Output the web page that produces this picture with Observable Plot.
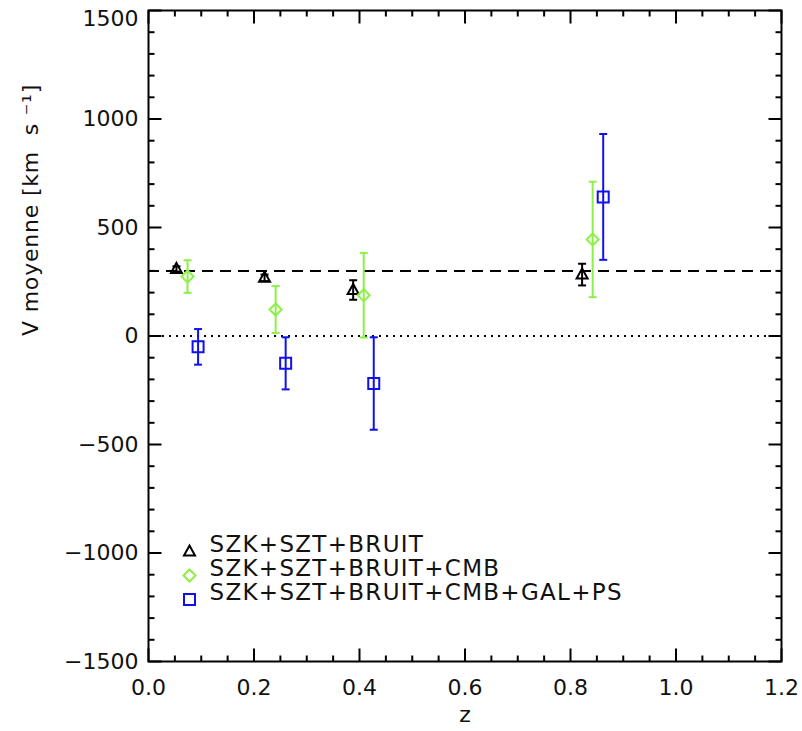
<!DOCTYPE html>
<html>
<head>
<meta charset="utf-8">
<script src="https://cdn.jsdelivr.net/npm/d3@7"></script>
<script src="https://cdn.jsdelivr.net/npm/@observablehq/plot@0.6"></script>
<style>
  html, body { margin: 0; padding: 0; background: #fff; }
  #chart svg { display: block; }
</style>
</head>
<body>
<div id="chart"></div>
<script>
// Mean velocity of clusters per redshift bin, for three simulated map combinations
const zSzk = [0.053, 0.220, 0.388, 0.822];
const vSzk = [309, 268, 212, 283];
const eSzk = [12, 15, 45, 50];

const zCmb = [0.074, 0.241, 0.408, 0.842];
const vCmb = [274, 122, 188, 445];
const eCmb = [75, 108, 195, 266];

const zGal = [0.094, 0.260, 0.427, 0.862];
const vGal = [-50, -126, -219, 641];
const eGal = [82, 120, 213, 290];

const seriesNames = ["SZK+SZT+BRUIT", "SZK+SZT+BRUIT+CMB", "SZK+SZT+BRUIT+CMB+GAL+PS"];
const seriesColors = ["#000000", "#8cf046", "#1010ee"];

const xMajor = [0, 0.2, 0.4, 0.6, 0.8, 1.0, 1.2];
const xMinor = d3.range(0, 25).map(i => i * 0.05).filter(v => Math.abs(v / 0.2 - Math.round(v / 0.2)) > 1e-6);
const yMajor = [-1500, -1000, -500, 0, 500, 1000, 1500];
const yMinor = d3.range(-1500, 1501, 100).filter(v => v % 500 !== 0);

const refVelocity = 300;
const yLabel = "V moyenne [km  s \u207B\u00B9]";

const series = [
  {name: seriesNames[0], color: seriesColors[0], z: zSzk, v: vSzk, e: eSzk},
  {name: seriesNames[1], color: seriesColors[1], z: zCmb, v: vCmb, e: eCmb},
  {name: seriesNames[2], color: seriesColors[2], z: zGal, v: vGal, e: eGal}
];
const rows = series.flatMap((s, k) => s.z.map((z, i) => ({k, name: s.name, z, v: s.v[i], e: s.e[i]})));

// Open markers and short line glyphs drawn in pixel units
const triangle = {draw(c) { c.moveTo(0, -6); c.lineTo(5.5, 4); c.lineTo(-5.5, 4); c.closePath(); }};
const diamond = {draw(c) { c.moveTo(0, -6); c.lineTo(6, 0); c.lineTo(0, 6); c.lineTo(-6, 0); c.closePath(); }};
const square = {draw(c) { c.rect(-5.5, -5.5, 11, 11); }};
const markers = [triangle, diamond, square];
const cap = {draw(c) { c.moveTo(-4, 0); c.lineTo(4, 0); }};
const tick = (dx, dy) => ({draw(c) { c.moveTo(0, 0); c.lineTo(dx, dy); }});

const axisTicks = (values, len) => [
  Plot.dot(values, {x: d => d, y: () => -1500, symbol: tick(0, -len), stroke: "black", strokeWidth: 2}),
  Plot.dot(values, {x: d => d, y: () => 1500, symbol: tick(0, len), stroke: "black", strokeWidth: 2})
];
const axisTicksY = (values, len) => [
  Plot.dot(values, {y: d => d, x: () => 0, symbol: tick(len, 0), stroke: "black", strokeWidth: 2}),
  Plot.dot(values, {y: d => d, x: () => 1.2, symbol: tick(-len, 0), stroke: "black", strokeWidth: 2})
];

const legendRowsDy = [-110, -86, -62];
const legendMarks = series.flatMap((s, k) => [
  Plot.dot([s.name], {frameAnchor: "bottom-left", dx: 41, dy: legendRowsDy[k], symbol: markers[k], stroke: s.color, strokeWidth: 2, fill: "none"}),
  Plot.text([s.name], {frameAnchor: "bottom-left", dx: 61, dy: legendRowsDy[k], text: d => d, textAnchor: "start", fontSize: 23, fill: "#111"})
]);

const minusFormat = d => (d < 0 ? "\u2212" + Math.abs(d) : String(d));
const yTop = yMajor[yMajor.length - 1];

const chart = Plot.plot({
  width: 802,
  height: 731,
  marginLeft: 148,
  marginRight: 21,
  marginTop: 10,
  marginBottom: 70,
  style: {fontFamily: "'DejaVu Sans', sans-serif", fontSize: "22px", color: "#111", background: "#fff"},
  x: {domain: [0, 1.2]},
  y: {domain: [-1500, 1500]},
  marks: [
    Plot.axisX(xMajor, {tickFormat: d => d.toFixed(1), tickSize: 0, tickPadding: 18, fontSize: 22, label: null}),
    Plot.axisY(yMajor.filter(d => d !== yTop), {tickFormat: minusFormat, tickSize: 0, tickPadding: 10, fontSize: 22, label: null}),
    Plot.axisY([yTop], {tickFormat: minusFormat, tickSize: 0, tickPadding: 10, fontSize: 22, label: null, dy: 8}),
    Plot.ruleY([0], {stroke: "black", strokeWidth: 2, strokeDasharray: "2,5"}),
    Plot.ruleY([refVelocity], {stroke: "black", strokeWidth: 2, strokeDasharray: "11,7"}),
    Plot.ruleX(rows, {x: "z", y1: d => d.v - d.e, y2: d => d.v + d.e, stroke: d => seriesColors[d.k], strokeWidth: 2}),
    Plot.dot(rows, {x: "z", y: d => d.v + d.e, symbol: cap, stroke: d => seriesColors[d.k], strokeWidth: 2}),
    Plot.dot(rows, {x: "z", y: d => d.v - d.e, symbol: cap, stroke: d => seriesColors[d.k], strokeWidth: 2}),
    ...series.map((s, k) => Plot.dot(rows.filter(r => r.k === k), {x: "z", y: "v", symbol: markers[k], stroke: s.color, strokeWidth: 2, fill: "none"})),
    ...axisTicks(xMajor, 13),
    ...axisTicks(xMinor, 6),
    ...axisTicksY(yMajor, 13),
    ...axisTicksY(yMinor, 6),
    Plot.frame({stroke: "black", strokeWidth: 2}),
    ...legendMarks,
    Plot.text(["z"], {frameAnchor: "bottom", dy: 60, text: d => d, fontSize: 22}),
    Plot.text([yLabel], {frameAnchor: "left", dx: -118, rotate: -90, text: d => d, fontSize: 22})
  ]
});

// Wider tracking on the legend entries and the axis title
d3.select(chart).selectAll("text")
  .filter(function () { return seriesNames.includes(this.textContent); })
  .attr("letter-spacing", "1.3px");
d3.select(chart).selectAll("text")
  .filter(function () { return this.textContent === yLabel; })
  .attr("letter-spacing", "0.8px")
  .style("white-space", "pre");

document.getElementById("chart").append(chart);
</script>
</body>
</html>
